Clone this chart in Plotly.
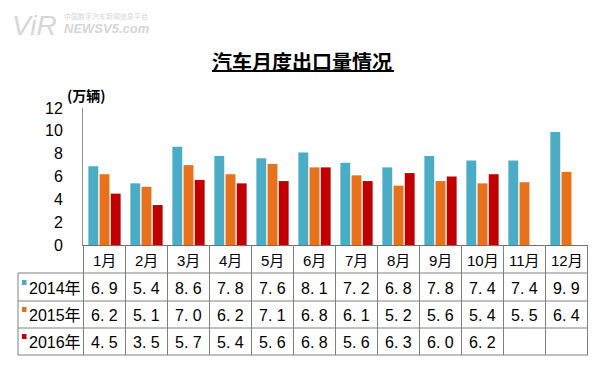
import plotly.graph_objects as go

months = ["1月", "2月", "3月", "4月", "5月", "6月", "7月", "8月", "9月", "10月", "11月", "12月"]
series_names = ["2014年", "2015年", "2016年"]
v2014 = [6.9, 5.4, 8.6, 7.8, 7.6, 8.1, 7.2, 6.8, 7.8, 7.4, 7.4, 9.9]
v2015 = [6.2, 5.1, 7.0, 6.2, 7.1, 6.8, 6.1, 5.2, 5.6, 5.4, 5.5, 6.4]
v2016 = [4.5, 3.5, 5.7, 5.4, 5.6, 6.8, 5.6, 6.3, 6.0, 6.2, None, None]
colors = ["#4BACC6", "#E8711C", "#C00000"]
yticks = [0, 2, 4, 6, 8, 10, 12]

# page body has an 8px margin: figure is drawn 8px right/down of the window corner
OFF = 8
W, H = 600 - OFF, 369 - OFF
# plot box in window pixels
PX0, PX1, PY0, PY1 = 83, 588, 108, 245
L, R = PX0 - OFF, W - (PX1 - OFF)
T, B = PY0 - OFF, H - (PY1 - OFF)
PW, PH = PX1 - PX0, PY1 - PY0
FONT = "Liberation Sans, Arial, Noto Sans CJK SC, sans-serif"
CJK = "Noto Sans CJK SC, sans-serif"

def px(x):
    return (x - PX0) / PW

def py(y):
    return (PY1 - y) / PH

fig = go.Figure()
for name, vals, c in zip(series_names, [v2014, v2015, v2016], colors):
    fig.add_trace(go.Bar(x=months, y=vals, name=name, marker=dict(color=c, line=dict(width=0))))

shapes = []
annotations = []
line_col = "#808080"

for yy in [273, 301, 328, 355]:
    shapes.append(dict(type="line", xref="paper", yref="paper", x0=px(18), x1=1, y0=py(yy), y1=py(yy),
                       line=dict(color=line_col, width=1)))
shapes.append(dict(type="line", xref="paper", yref="paper", x0=px(18), x1=px(18), y0=py(273), y1=py(355),
                   line=dict(color=line_col, width=1)))
for i in range(len(months) + 1):
    shapes.append(dict(type="line", xref="x", yref="paper", x0=i - 0.5, x1=i - 0.5, y0=0, y1=py(355),
                       line=dict(color=line_col, width=1)))

for m in months:
    annotations.append(dict(x=m, xref="x", y=py(260), yref="paper", text=m, showarrow=False,
                            font=dict(family=FONT, size=15, color="#000"), xanchor="center", yanchor="middle"))
row_y = [288, 315, 342]
for name, vals, c, ry in zip(series_names, [v2014, v2015, v2016], colors, row_y):
    annotations.append(dict(x=px(27), xref="paper", y=py(ry), yref="paper", text=name, showarrow=False,
                            font=dict(family=FONT, size=16, color="#000"), xanchor="left", yanchor="middle"))
    shapes.append(dict(type="rect", xref="paper", yref="paper", x0=px(22), x1=px(26.5), y0=py(ry - 3), y1=py(ry - 8),
                       fillcolor=c, line=dict(width=0)))
    for m, v in zip(months, vals):
        if v is None:
            continue
        annotations.append(dict(x=m, xref="x", y=py(ry), yref="paper", text=f"{v:.1f}".replace(".", ". "),
                                showarrow=False, font=dict(family=FONT, size=16, color="#000"),
                                xanchor="center", yanchor="middle"))

annotations.append(dict(x=px(65), xref="paper", y=py(95), yref="paper", text="<b>(万辆)</b>", showarrow=False,
                        font=dict(family=CJK, size=14, color="#000"), xanchor="left", yanchor="middle"))
annotations.append(dict(x=px(302), xref="paper", y=py(61), yref="paper", text="<b>汽车月度出口量情况</b>",
                        showarrow=False, font=dict(family=CJK, size=20, color="#000"),
                        xanchor="center", yanchor="middle"))
shapes.append(dict(type="line", xref="paper", yref="paper", x0=px(212), x1=px(394), y0=py(71), y1=py(71),
                   line=dict(color="#000", width=2)))

wm = "#D6D6D6"
annotations.append(dict(x=px(10), xref="paper", y=py(25), yref="paper", text="<i>ViR</i>", showarrow=False,
                        font=dict(family="Liberation Sans", size=28, color=wm), xanchor="left", yanchor="middle"))
annotations.append(dict(x=px(62), xref="paper", y=py(16), yref="paper", text="中国数字汽车新闻信息平台", showarrow=False,
                        font=dict(family=CJK, size=7, color=wm), xanchor="left", yanchor="middle"))
annotations.append(dict(x=px(62), xref="paper", y=py(29), yref="paper", text="<b><i>NEWSV5.com</i></b>", showarrow=False,
                        font=dict(family="Liberation Sans", size=13, color=wm), xanchor="left", yanchor="middle"))

fig.update_layout(
    width=W, height=H,
    margin=dict(l=L, r=R, t=T, b=B, pad=0),
    paper_bgcolor="white", plot_bgcolor="white",
    barmode="group", bargap=0.2, bargroupgap=0.12,
    showlegend=False,
    shapes=shapes, annotations=annotations,
    xaxis=dict(showticklabels=False, showline=True, linecolor="#707070", linewidth=1, ticks="",
               showgrid=False, zeroline=False, fixedrange=True),
    yaxis=dict(range=[0, 12], tickvals=yticks, showline=True, linecolor="#909090", linewidth=1,
               ticks="", showgrid=False, zeroline=False, ticklabelstandoff=16,
               tickfont=dict(family=FONT, size=16, color="#000")),
)
fig.write_html("out.html")
